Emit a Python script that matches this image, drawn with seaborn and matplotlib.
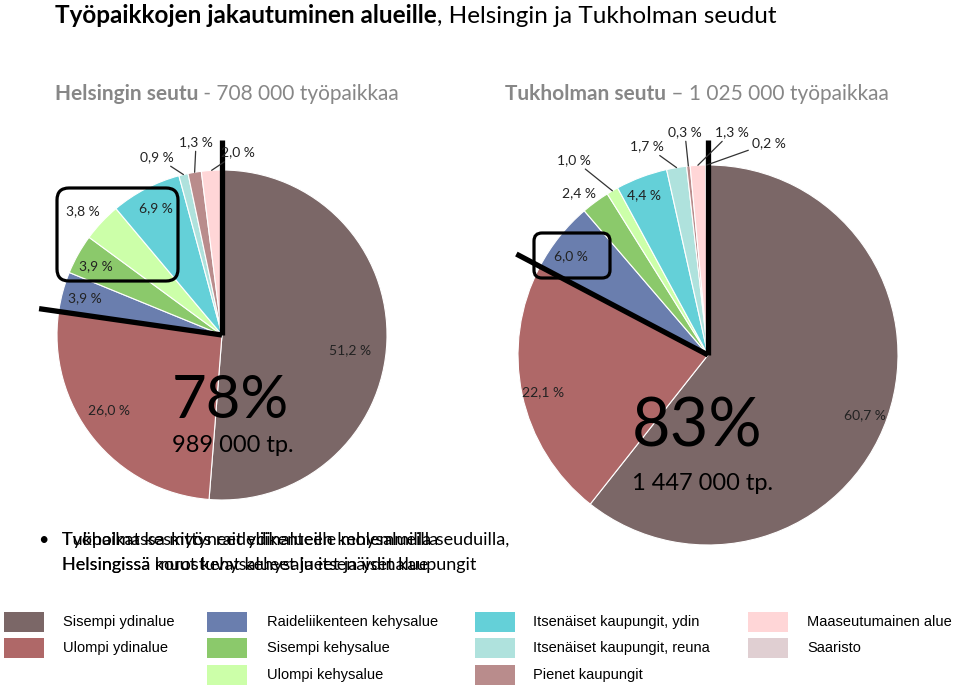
import matplotlib
matplotlib.use("Agg")
import matplotlib.pyplot as plt
import seaborn as sns
import numpy as np
from matplotlib.patches import FancyBboxPatch, Rectangle

# ---------------- data ----------------
categories = [
    "Sisempi ydinalue", "Ulompi ydinalue", "Raideliikenteen kehysalue",
    "Sisempi kehysalue", "Ulompi kehysalue", "Itsenäiset kaupungit, ydin",
    "Itsenäiset kaupungit, reuna", "Pienet kaupungit", "Maaseutumainen alue",
    "Saaristo",
]
helsinki_share = [51.2, 26.0, 3.9, 3.9, 3.8, 6.9, 0.9, 1.3, 2.0, 0.0]
stockholm_share = [60.7, 22.1, 6.0, 2.4, 1.0, 4.4, 1.7, 0.3, 1.3, 0.2]
helsinki_core_pct = "78%"
helsinki_core_jobs = "989 000 tp."
stockholm_core_pct = "83%"
stockholm_core_jobs = "1 447 000 tp."
title_bold = "Työpaikkojen jakautuminen alueille"
title_rest = ", Helsingin ja Tukholman seudut"
sub_left = ("Helsingin seutu", " - 708 000 työpaikkaa")
sub_right = ("Tukholman seutu", " – 1 025 000 työpaikkaa")
bullet_a = ["Työpaikat keskittyneet ydinalueille molemmilla seuduilla,",
            "Helsingissä muut kehysalueet ja itsenäiset kaupungit"]
bullet_b = ["Tukholmassa myös raideliikenteen kehysalueilla",
            "Helsingissä korostuvat kehysalueet ja ydinalue"]

colors = ["#7B6767", "#AF6868", "#6A7EAE", "#8BC96B", "#CCFFA9",
          "#64D0D8", "#AFE2DD", "#B98C8C", "#FFD6D7", "#E0CFD2"]

# ---------------- layout / style ----------------
sns.set_theme(style="white")
plt.rcParams["font.family"] = ["Lato", "DejaVu Sans"]

fig = plt.figure(figsize=(9.6, 6.85), dpi=100)
ax = fig.add_axes([0, 0, 1, 1])

# pixel-like coordinate system, y grows downward
pies = [
    dict(values=helsinki_share, center=(222, 335), r=165,
         # (angle nudge in deg, radius factor, leader)
         labels=[(-4.5, 0.78, False), (-5, 0.82, False), (0, 0.86, False),
                 (0.8, 0.87, False), (1.5, 1.13, False), (0, 0.87, False),
                 (6.7, 1.15, True), (-1.9, 1.18, True), (-8.7, 1.11, True), None],
         line_len=(1.18, 1.12),
         big=(helsinki_core_pct, helsinki_core_jobs), big_size=43,
         big_xy=(172, 418, 452),
         box=(57, 188, 121, 93, 12)),
    dict(values=stockholm_share, center=(708, 355), r=190,
         labels=[(-1.9, 0.885, False), (0.9, 0.89, False), (2.6, 0.89, False),
                 (2.1, 1.09, False), (4.3, 1.247, True), (1.3, 0.905, False),
                 (6.8, 1.145, True), (0, 1.18, True), (-9.1, 1.18, True),
                 (-16.3, 1.16, True)],
         line_len=(1.13, 1.14),
         big=(stockholm_core_pct, stockholm_core_jobs), big_size=48,
         big_xy=(632, 446, 490),
         box=(534, 233, 76, 45, 8)),
]

for p in pies:
    vals = np.array(p["values"], dtype=float)
    cx, cy = p["center"]
    R = p["r"]
    wedges, _ = ax.pie(vals, colors=colors, startangle=-90, counterclock=True,
                       radius=R, center=(cx, cy), frame=True,
                       wedgeprops=dict(edgecolor="white", linewidth=0.8))
    # labels
    frac = np.cumsum(vals) / vals.sum()
    start = np.concatenate([[0], frac[:-1]])
    for i, (v, spec) in enumerate(zip(vals, p["labels"])):
        if spec is None or v == 0:
            continue
        nudge, rf, leader = spec
        mid = 90 - 360 * (start[i] + frac[i]) / 2  # visual, y-up degrees
        ang = np.deg2rad(mid + nudge)
        tx, ty = cx + rf * R * np.cos(ang), cy - rf * R * np.sin(ang)
        txt = f"{v:.1f}".replace(".", ",") + " %"
        if leader:
            ex = cx + R * np.cos(np.deg2rad(mid))
            ey = cy - R * np.sin(np.deg2rad(mid))
            ax.annotate(txt, xy=(ex, ey), xytext=(tx, ty), ha="center",
                        va="center", fontsize=10, color="#222222", zorder=6,
                        arrowprops=dict(arrowstyle="-", lw=0.9, color="#333333",
                                        shrinkA=0, shrinkB=0))
        else:
            ax.text(tx, ty, txt, ha="center", va="center", fontsize=10,
                    color="#222222", zorder=6)
    # heavy black lines: at start and at the core boundary (first two wedges)
    core_end = 90 - 360 * frac[1]
    for ang_deg, L in ((90, p["line_len"][0]), (core_end, p["line_len"][1])):
        a = np.deg2rad(ang_deg)
        ax.plot([cx, cx + L * R * np.cos(a)], [cy, cy - L * R * np.sin(a)],
                color="black", lw=3.8, solid_capstyle="butt", zorder=4)
    # rounded highlight box
    bx, by, bw, bh, rs = p["box"]
    ax.add_patch(FancyBboxPatch((bx, by), bw, bh,
                                boxstyle=f"round,pad=0,rounding_size={rs}",
                                fc="none", ec="black", lw=2.3, zorder=5))
    # big numbers
    big_pct, big_jobs = p["big"]
    x0, yb1, yb2 = p["big_xy"]
    ax.text(x0, yb1, big_pct, fontsize=p["big_size"], ha="left", va="baseline",
            color="black", zorder=6)
    ax.text(x0, yb2, big_jobs, fontsize=17, ha="left", va="baseline",
            color="black", zorder=6)

# title
t = ax.text(55, 23, title_bold, fontsize=17.5, fontweight="bold",
            ha="left", va="baseline", color="black")
ax.annotate(title_rest, xy=(1, 0), xycoords=t, ha="left", va="bottom",
            fontsize=17.5, color="black")

# subtitles
for (bold, rest), x in ((sub_left, 55), (sub_right, 505)):
    s = ax.text(x, 100, bold, fontsize=15, fontweight="bold", ha="left",
                va="baseline", color="#878787")
    ax.annotate(rest, xy=(1, 0), xycoords=s, ha="left", va="bottom",
                fontsize=15, color="#878787")

# overlapping bullet text (as in the original slide)
ax.text(38, 545, "•", fontsize=13, ha="left", va="baseline", color="black")
for lines in (bullet_a, bullet_b):
    for k, ln in enumerate(lines):
        ax.text(62, 545 + 25 * k, ln, fontsize=13, ha="left", va="baseline",
                color="black")

# legend
leg_cols = [(4, 63), (207, 267), (475, 533), (748, 807)]
leg_rows = [612, 638, 665]
leg_layout = [(0, 0), (0, 1), (1, 0), (1, 1), (1, 2), (2, 0), (2, 1), (2, 2),
              (3, 0), (3, 1)]
for (ci, ri), name, col in zip(leg_layout, categories, colors):
    bx, tx = leg_cols[ci]
    y = leg_rows[ri]
    ax.add_patch(Rectangle((bx, y), 40, 20, fc=col, ec="none"))
    ax.text(tx, y + 10, name, fontsize=10.5, ha="left", va="center",
            color="black", family=["Liberation Sans", "DejaVu Sans"])

ax.set_xlim(0, 960)
ax.set_ylim(685, 0)
ax.set_aspect("auto")
ax.axis("off")

fig.savefig("out.png", dpi=100, facecolor="white")
